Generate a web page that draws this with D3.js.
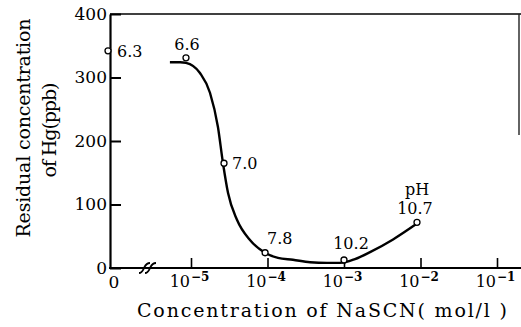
<!DOCTYPE html>
<html lang="en">
<head>
  <meta charset="UTF-8" />
  <title>Residual Hg vs NaSCN</title>
  <script src="https://cdnjs.cloudflare.com/ajax/libs/d3/7.8.5/d3.min.js"></script>
  <style>
    body {
      margin: 0;
      background: #fff;
    }

    svg {
      display: block;
    }

    svg text {
      font-family: "DejaVu Serif", serif;
      fill: #000;
    }
  </style>
</head>
<body>
  <svg id="chart" width="521" height="327"></svg>

  <script>
    // measured points (concentration mol/l, residual Hg ppb, pH label)
    const pointConc = [0, 8.6e-6, 2.7e-5, 9.3e-5, 1.0e-3, 9.0e-3];
    const pointHg = [342, 331, 165, 24, 12.6, 72];
    const pointPH = ["6.3", "6.6", "7.0", "7.8", "10.2", "10.7"];

    // hand drawn fitted curve
    const curveConc = [5.3e-6, 7.2e-6, 8.6e-6, 1.31e-5, 1.77e-5, 2.25e-5, 2.62e-5, 3.05e-5,
      3.99e-5, 5.9e-5, 9.27e-5, 1.37e-4, 2.15e-4, 3.6e-4, 6.0e-4, 8.87e-4,
      1.39e-3, 2.19e-3, 4.38e-3, 9.0e-3];
    const curveHg = [324, 324, 323, 307, 276, 222, 165, 118,
      76, 44, 24, 16, 13, 9, 8, 8,
      14, 25, 45, 70];

    const xTicks = [1e-5, 1e-4, 1e-3, 1e-2, 1e-1];
    const yTicks = [0, 100, 200, 300, 400];

    // label offsets from each point: [dx, dy, anchor]
    const labelPos = [[7, 6, "start"], [1, -8, "middle"], [8, 6, "start"],
      [2, -9, "start"], [7, -11, "middle"], [-2, -8, "middle"]];

    const svg = d3.select("#chart");
    const x0 = 110, xRight = 519, yTop = 14, yBottom = 268;

    const xLog = d3.scaleLog().domain([1e-5, 1e-1]).range([191, 497]);
    const y = d3.scaleLinear().domain([0, 400]).range([yBottom, yTop]);
    const xPos = v => v === 0 ? x0 : xLog(v);

    // frame (top + right, partially)
    svg.append("line")
      .attr("x1", x0).attr("x2", 521).attr("y1", yTop).attr("y2", yTop)
      .attr("stroke", "#000").attr("stroke-width", 1.6);
    svg.append("line")
      .attr("x1", xRight).attr("x2", xRight).attr("y1", yTop).attr("y2", 135)
      .attr("stroke", "#222").attr("stroke-width", 1.4);

    // y axis
    const yAxis = svg.append("g")
      .attr("transform", `translate(${x0},0)`)
      .call(d3.axisLeft(y).tickValues(yTicks).tickSizeInner(-11).tickSizeOuter(0).tickPadding(3));
    yAxis.attr("font-family", null).attr("font-size", null);
    yAxis.select(".domain").attr("stroke-width", 2.2);
    yAxis.selectAll(".tick line").attr("stroke-width", 2);
    yAxis.selectAll(".tick text").style("font-size", "17px");

    // x axis
    svg.append("line")
      .attr("x1", x0 - 1).attr("x2", 521).attr("y1", yBottom).attr("y2", yBottom)
      .attr("stroke", "#000").attr("stroke-width", 2.2);
    const xAxis = svg.append("g")
      .attr("transform", `translate(0,${yBottom})`)
      .call(d3.axisBottom(xLog).tickValues(xTicks).tickSizeInner(-10).tickSizeOuter(0).tickPadding(8));
    xAxis.attr("font-family", null).attr("font-size", null);
    xAxis.select(".domain").remove();
    xAxis.selectAll(".tick line").attr("stroke-width", 1.6);
    xAxis.selectAll(".tick text")
      .style("font-size", "16px")
      .attr("dx", -2)
      .each(function (d) {
        const t = d3.select(this);
        t.text(null);
        t.append("tspan").text("10");
        t.append("tspan").attr("dy", -6).attr("dx", 1)
          .style("font-size", "12px").style("font-weight", "bold")
          .text("\u2212" + Math.round(-Math.log10(d)));
      });
    svg.append("text")
      .attr("x", 114).attr("y", 288)
      .attr("text-anchor", "middle").style("font-size", "17px")
      .text("0");

    // axis break mark
    const bx = 148, by = 268;
    [-3, 3].forEach(o => {
      svg.append("path")
        .attr("d", `M${bx + o - 6},${by + 5} c3,0 4,-3 5,-5 s2,-5 6,-5`)
        .attr("fill", "none").attr("stroke", "#000").attr("stroke-width", 1.8);
    });

    // curve
    const curveData = curveConc.map((c, i) => [c, curveHg[i]]);
    svg.append("path")
      .datum(curveData)
      .attr("fill", "none").attr("stroke", "#000").attr("stroke-width", 2.4)
      .attr("d", d3.line().x(d => xPos(d[0])).y(d => y(d[1])).curve(d3.curveMonotoneX));

    // points
    const pts = pointConc.map((c, i) => ({ c, hg: pointHg[i], ph: pointPH[i], pos: labelPos[i] }));
    svg.selectAll("circle.pt")
      .data(pts)
      .enter().append("circle")
      .attr("class", "pt")
      .attr("cx", d => xPos(d.c) - (d.c === 0 ? 2 : 0))
      .attr("cy", d => y(d.hg))
      .attr("r", 3)
      .attr("fill", "#fff").attr("stroke", "#000").attr("stroke-width", 1.3);

    svg.selectAll("text.ph")
      .data(pts)
      .enter().append("text")
      .attr("class", "ph")
      .attr("x", d => xPos(d.c) + d.pos[0])
      .attr("y", d => y(d.hg) + d.pos[1])
      .attr("text-anchor", d => d.pos[2])
      .style("font-size", "16px")
      .text(d => d.ph);

    const last = pts[pts.length - 1];
    svg.append("text")
      .attr("x", xPos(last.c))
      .attr("y", y(last.hg) - 27)
      .attr("text-anchor", "middle").style("font-size", "16px")
      .text("pH");

    // axis titles
    svg.append("text")
      .attr("x", 137).attr("y", 317)
      .style("font-size", "19px")
      .attr("textLength", 370).attr("lengthAdjust", "spacing")
      .text("Concentration  of  NaSCN( mol/l )");

    svg.append("text")
      .attr("transform", "translate(30,128) rotate(-90)")
      .attr("text-anchor", "middle").style("font-size", "19px")
      .attr("textLength", 219).attr("lengthAdjust", "spacing")
      .text("Residual  concentration");
    svg.append("text")
      .attr("transform", "translate(56,130) rotate(-90)")
      .attr("text-anchor", "middle").style("font-size", "19px")
      .attr("textLength", 95).attr("lengthAdjust", "spacing")
      .text("of  Hg(ppb)");
  </script>
</body>
</html>
